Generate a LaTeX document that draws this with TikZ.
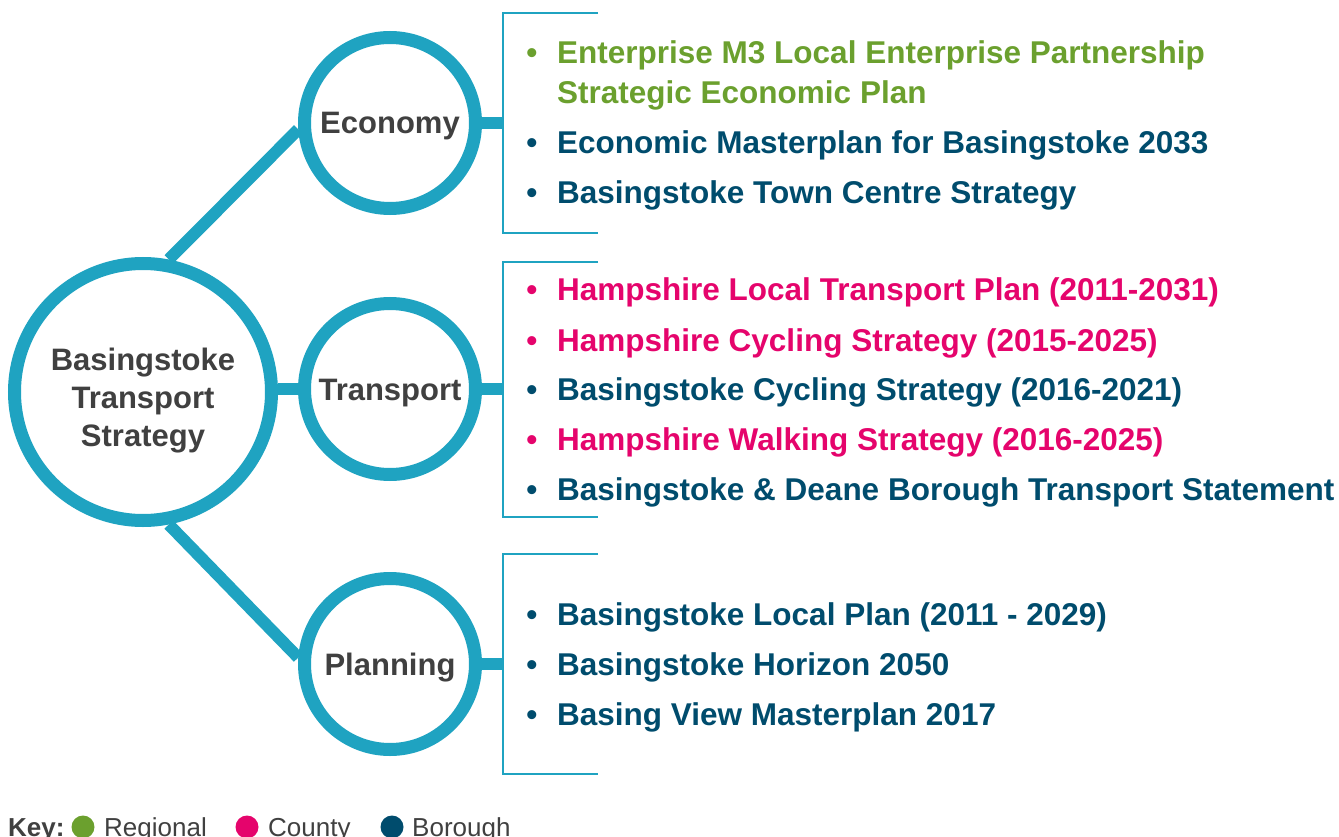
\documentclass[tikz,border=0pt]{standalone}
\usepackage{fontspec}
\setmainfont{Liberation Sans}
\usetikzlibrary{backgrounds}

\definecolor{ring}{HTML}{1FA3C1}
\definecolor{txtgray}{HTML}{404040}
\definecolor{regional}{HTML}{6BA02E}
\definecolor{county}{HTML}{E5046C}
\definecolor{borough}{HTML}{004C6D}

\begin{document}
\begin{tikzpicture}[x=1pt, y=-1pt,
    hub/.style={circle, draw=ring, line width=13pt, fill=white, inner sep=0pt,
        text=txtgray, font=\fontsize{31}{38}\selectfont\bfseries,
        text height=22pt, text depth=0pt},
    hubtxt/.style={inner sep=0pt, text=txtgray, align=center,
        font=\fontsize{31}{38}\selectfont\bfseries},
    link/.style={draw=ring, line width=12pt},
    brk/.style={draw=ring, line width=2pt},
    item/.style={anchor=base west, inner sep=0pt, font=\fontsize{31.5}{31.5}\selectfont\bfseries},
    dot/.style={anchor=base, inner sep=0pt, font=\fontsize{31.5}{31.5}\selectfont\bfseries},
    keydot/.style={circle, inner sep=0pt, minimum size=23pt},
    keytxt/.style={anchor=base west, inner sep=0pt, text=txtgray, font=\fontsize{26}{26}\selectfont}]
    \useasboundingbox (0,0) rectangle (1339,837);

    % circles
    \node[hub, minimum size=257pt] (bts) at (143,392) {};
    \node[hubtxt] (btstxt) at (143,401) {Basingstoke\\Transport\\Strategy};
    \node[hub, minimum size=171pt] (eco) at (390,123) {Economy};
    \node[hub, minimum size=171pt] (tra) at (390,389) {Transport};
    \node[hub, minimum size=171pt] (pla) at (390,664) {Planning};

    % joints on the brackets
    \coordinate (ecoj) at (503,123);
    \coordinate (traj) at (503,389);
    \coordinate (plaj) at (503,664);

    \begin{scope}[on background layer]
        \draw[link] (bts.79) -- (eco.184);
        \draw[link] (bts.-79) -- (pla.176);
        \draw[link] (tra.west) -- (tra.west -| bts.east);
        \draw[link] (eco.east) -- (ecoj);
        \draw[link] (tra.east) -- (traj);
        \draw[link] (pla.east) -- (plaj);
    \end{scope}

    % brackets
    \draw[brk] (598,13) -- (503,13) -- (503,233) -- (598,233);
    \draw[brk] (598,262) -- (503,262) -- (503,517) -- (598,517);
    \draw[brk] (598,554) -- (503,554) -- (503,774) -- (598,774);

    % economy
    \node[dot, text=regional] (e1d) at (532,64) {•};
    \node[item, text=regional] (e1) at (557,64) {Enterprise M3 Local Enterprise Partnership};
    \node[item, text=regional] (e1b) at (557,104) {Strategic Economic Plan};
    \node[dot, text=borough] (e2d) at (532,154) {•};
    \node[item, text=borough] (e2) at (557,154) {Economic Masterplan for Basingstoke 2033};
    \node[dot, text=borough] (e3d) at (532,204) {•};
    \node[item, text=borough] (e3) at (557,204) {Basingstoke Town Centre Strategy};

    % transport
    \node[dot, text=county] (t1d) at (532,301) {•};
    \node[item, text=county] (t1) at (557,301) {Hampshire Local Transport Plan (2011-2031)};
    \node[dot, text=county] (t2d) at (532,351) {•};
    \node[item, text=county] (t2) at (557,351) {Hampshire Cycling Strategy (2015-2025)};
    \node[dot, text=borough] (t3d) at (532,400) {•};
    \node[item, text=borough] (t3) at (557,400) {Basingstoke Cycling Strategy (2016-2021)};
    \node[dot, text=county] (t4d) at (532,450) {•};
    \node[item, text=county] (t4) at (557,450) {Hampshire Walking Strategy (2016-2025)};
    \node[dot, text=borough] (t5d) at (532,500) {•};
    \node[item, text=borough] (t5) at (557,500) {Basingstoke \& Deane Borough Transport Statement};

    % planning
    \node[dot, text=borough] (p1d) at (532,625) {•};
    \node[item, text=borough] (p1) at (557,625) {Basingstoke Local Plan (2011 - 2029)};
    \node[dot, text=borough] (p2d) at (532,675) {•};
    \node[item, text=borough] (p2) at (557,675) {Basingstoke Horizon 2050};
    \node[dot, text=borough] (p3d) at (532,725) {•};
    \node[item, text=borough] (p3) at (557,725) {Basing View Masterplan 2017};

    % key
    \node[keytxt, font=\fontsize{26}{26}\selectfont\bfseries] (key) at (8,836) {Key:};
    \node[keydot, fill=regional] (kreg) at (83,827) {};
    \node[keytxt] (lreg) at (104,836) {Regional};
    \node[keydot, fill=county] (kcou) at (247,827) {};
    \node[keytxt] (lcou) at (268,836) {County};
    \node[keydot, fill=borough] (kbor) at (392,827) {};
    \node[keytxt] (lbor) at (412,836) {Borough};
\end{tikzpicture}
\end{document}
